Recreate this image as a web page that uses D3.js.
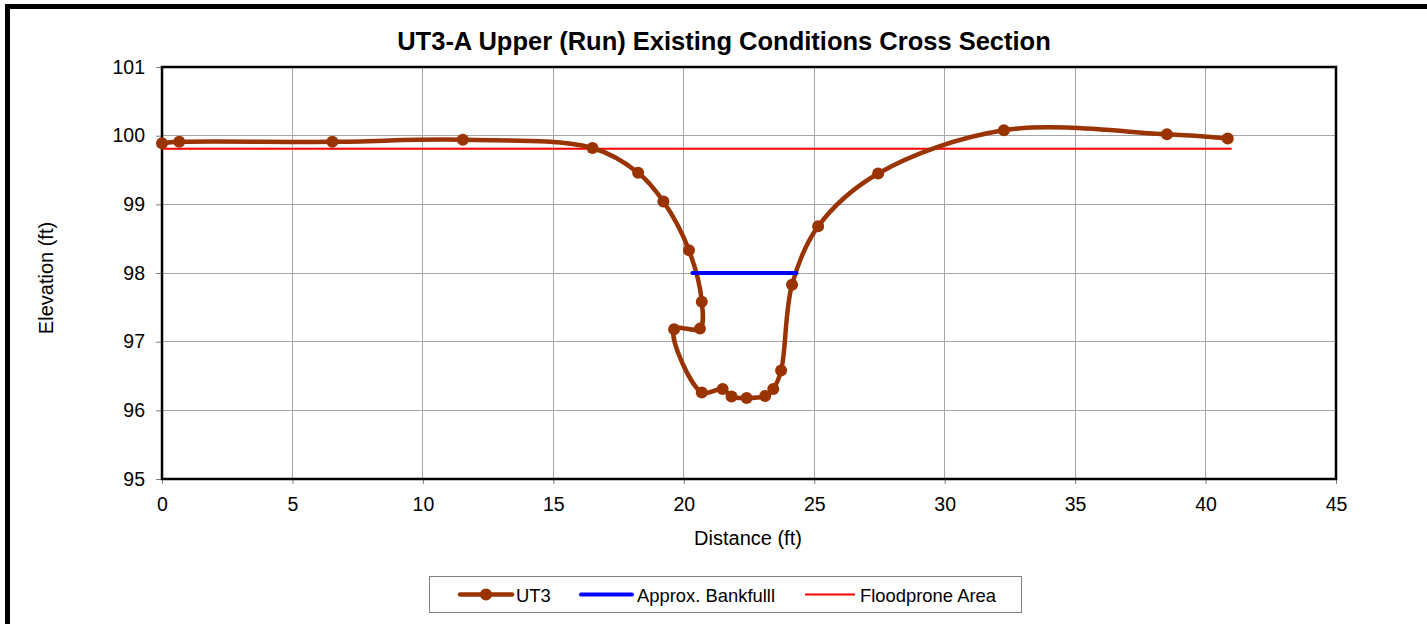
<!DOCTYPE html>
<html>
<head>
<meta charset="utf-8">
<script src="https://cdn.jsdelivr.net/npm/d3@7"></script>
<style>
  html, body { margin: 0; padding: 0; background: #fff; }
  svg { display: block; font-family: "Liberation Sans", Arial, sans-serif; }
</style>
</head>
<body>
<svg id="chart" width="1427" height="624"></svg>
<script>
// Surveyed cross-section station (ft) and elevation (ft)
const stations = [0, 0.66, 6.53, 11.53, 16.5, 18.25, 19.22, 20.2, 20.69, 20.62, 19.63, 20.69, 21.49, 21.83, 22.41, 23.12, 23.43, 23.73, 24.15, 25.15, 27.45, 32.27, 38.52, 40.85];
const elevations = [99.89, 99.91, 99.91, 99.94, 99.82, 99.46, 99.04, 98.33, 97.58, 97.19, 97.18, 96.26, 96.31, 96.20, 96.18, 96.21, 96.31, 96.58, 97.83, 98.68, 99.45, 100.08, 100.02, 99.96];

// Approximate bankfull elevation line
const bankfullX = [20.33, 24.32];
const bankfullY = [98.0, 98.0];

// Floodprone area elevation line
const floodX = [0, 41.0];
const floodY = [99.81, 99.81];

const xTicks = [0, 5, 10, 15, 20, 25, 30, 35, 40, 45];
const yTicks = [95, 96, 97, 98, 99, 100, 101];

const svg = d3.select("#chart");

// Outer chart frame
svg.append("rect")
  .attr("x", 7.5).attr("y", 6.5)
  .attr("width", 1440).attr("height", 640)
  .attr("fill", "#fff").attr("stroke", "#000").attr("stroke-width", 5);

const plot = { left: 162, top: 67, right: 1336, bottom: 479 };

const x = d3.scaleLinear().domain([0, 45]).range([plot.left, plot.right]);
const y = d3.scaleLinear().domain([95, 101]).range([plot.bottom, plot.top]);

// Gridlines
const grid = svg.append("g");
grid.selectAll("line.v").data(xTicks.slice(1, -1)).join("line")
  .attr("x1", d => x(d)).attr("x2", d => x(d))
  .attr("y1", plot.top).attr("y2", plot.bottom)
  .attr("stroke", "#a6a6a6").attr("stroke-width", 1).attr("shape-rendering", "crispEdges");
grid.selectAll("line.h").data(yTicks.slice(1, -1)).join("line")
  .attr("x1", plot.left).attr("x2", plot.right)
  .attr("y1", d => y(d)).attr("y2", d => y(d))
  .attr("stroke", "#a6a6a6").attr("stroke-width", 1).attr("shape-rendering", "crispEdges");

// Axes
const xAxis = svg.append("g")
  .attr("transform", `translate(0,${plot.bottom})`)
  .call(d3.axisBottom(x).tickValues(xTicks).tickFormat(d3.format("d"))
    .tickSize(5).tickSizeOuter(0).tickPadding(13));
const yAxis = svg.append("g")
  .attr("transform", `translate(${plot.left},0)`)
  .call(d3.axisLeft(y).tickValues(yTicks).tickFormat(d3.format("d"))
    .tickSize(6).tickSizeOuter(0).tickPadding(11));
[xAxis, yAxis].forEach(g => {
  g.select(".domain").remove();
  g.selectAll(".tick line").attr("stroke", "#808080");
  g.selectAll(".tick text").attr("font-size", 19.5).attr("fill", "#000")
    .attr("font-family", "'Liberation Sans', Arial, sans-serif");
});

// Plot border
svg.append("rect")
  .attr("x", plot.left).attr("y", plot.top)
  .attr("width", plot.right - plot.left).attr("height", plot.bottom - plot.top)
  .attr("fill", "none").attr("stroke", "#000").attr("stroke-width", 2.5);

// Floodprone area
const straight = d3.line().x(d => x(d[0])).y(d => y(d[1]));
svg.append("path")
  .attr("d", straight(d3.zip(floodX, floodY)))
  .attr("fill", "none").attr("stroke", "#ff0000").attr("stroke-width", 2);

// Ground profile (smoothed)
const pts = d3.zip(stations, elevations);
const smooth = d3.line().x(d => x(d[0])).y(d => y(d[1])).curve(d3.curveCatmullRom.alpha(0.5));
svg.append("path")
  .attr("d", smooth(pts))
  .attr("fill", "none").attr("stroke", "#993300").attr("stroke-width", 4.5)
  .attr("stroke-linejoin", "round");

// Bankfull
svg.append("path")
  .attr("d", straight(d3.zip(bankfullX, bankfullY)))
  .attr("fill", "none").attr("stroke", "#0000ff").attr("stroke-width", 4)
  .attr("stroke-linecap", "round");

// Survey points
svg.append("g").selectAll("circle").data(pts).join("circle")
  .attr("cx", d => x(d[0])).attr("cy", d => y(d[1])).attr("r", 6)
  .attr("fill", "#993300");

// Titles
svg.append("text")
  .attr("x", 724).attr("y", 50).attr("text-anchor", "middle")
  .attr("font-size", 25.5).attr("font-weight", "bold")
  .text("UT3-A Upper (Run) Existing Conditions Cross Section");
svg.append("text")
  .attr("x", 748).attr("y", 545).attr("text-anchor", "middle")
  .attr("font-size", 20)
  .text("Distance (ft)");
svg.append("text")
  .attr("transform", `translate(53,${(plot.top + plot.bottom) / 2 + 5}) rotate(-90)`)
  .attr("text-anchor", "middle")
  .attr("font-size", 20)
  .text("Elevation (ft)");

// Legend
const legend = svg.append("g");
legend.append("rect")
  .attr("x", 429.5).attr("y", 576.5).attr("width", 592).attr("height", 36)
  .attr("fill", "#fff").attr("stroke", "#808080").attr("stroke-width", 1);
const ly = 594.5;
const fs = 18.4;
legend.append("line").attr("x1", 460).attr("x2", 512).attr("y1", ly).attr("y2", ly)
  .attr("stroke", "#993300").attr("stroke-width", 4.5).attr("stroke-linecap", "round");
legend.append("circle").attr("cx", 486).attr("cy", ly).attr("r", 6).attr("fill", "#993300");
legend.append("text").attr("x", 516).attr("y", ly + 7).attr("font-size", fs).text("UT3");
legend.append("line").attr("x1", 581).attr("x2", 632).attr("y1", ly).attr("y2", ly)
  .attr("stroke", "#0000ff").attr("stroke-width", 4).attr("stroke-linecap", "round");
legend.append("text").attr("x", 637).attr("y", ly + 7).attr("font-size", fs).text("Approx. Bankfulll");
legend.append("line").attr("x1", 805).attr("x2", 855).attr("y1", ly).attr("y2", ly)
  .attr("stroke", "#ff0000").attr("stroke-width", 2);
legend.append("text").attr("x", 860).attr("y", ly + 7).attr("font-size", fs).text("Floodprone Area");
</script>
</body>
</html>
